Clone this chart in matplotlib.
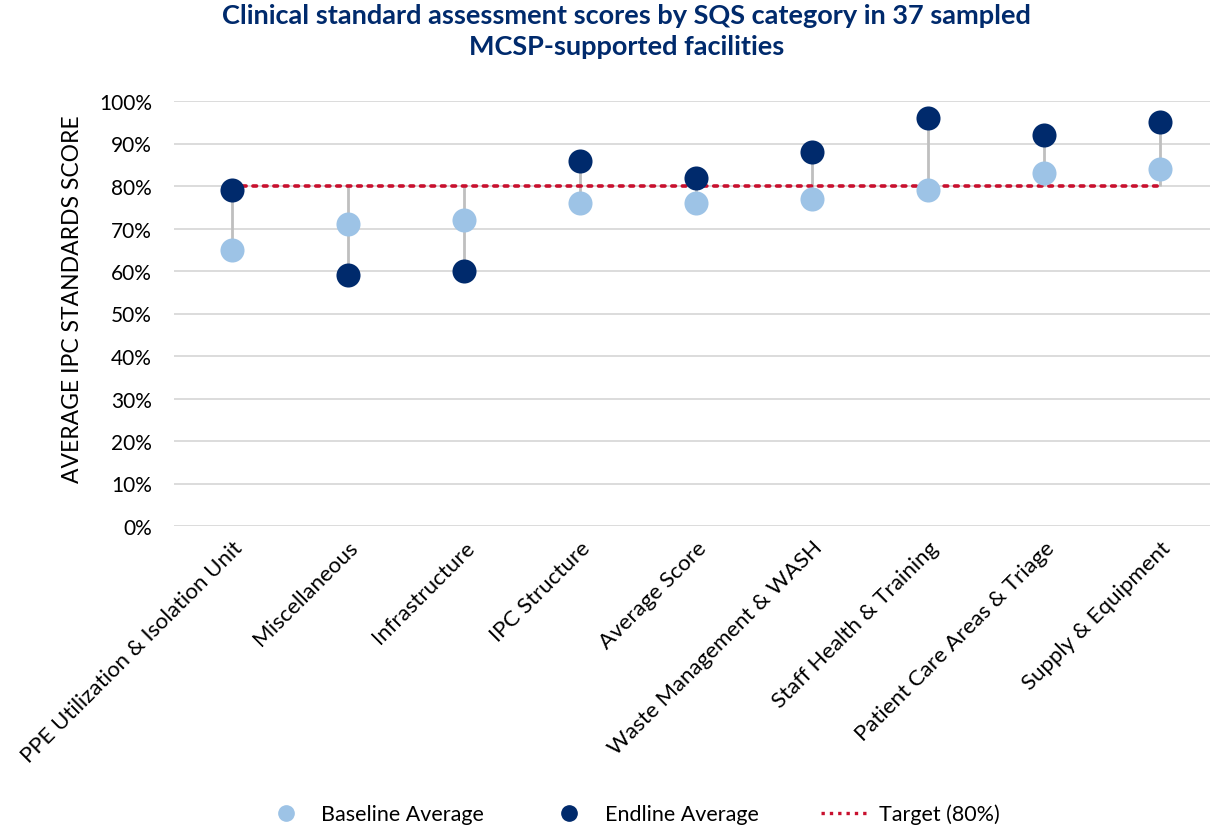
import matplotlib
matplotlib.use("Agg")
import matplotlib.pyplot as plt
from matplotlib.ticker import PercentFormatter
from matplotlib.lines import Line2D

categories = ["PPE Utilization & Isolation Unit", "Miscellaneous", "Infrastructure",
              "IPC Structure", "Average Score", "Waste Management & WASH",
              "Staff Health & Training", "Patient Care Areas & Triage", "Supply & Equipment"]
baseline = [65, 71, 72, 76, 76, 77, 79, 83, 84]
endline = [79, 59, 60, 86, 82, 88, 96, 92, 95]
target = 80
yticks = list(range(0, 101, 10))

plt.rcParams['font.family'] = ['Lato', 'DejaVu Sans']

c_base = "#9DC3E6"
c_end = "#002A6C"
c_target = "#C8102E"

fig = plt.figure(figsize=(12.1, 8.29), dpi=100)
ax = fig.add_axes([174/1210, 1 - 527/829, 1 - 174/1210, (527-102)/829])

x = list(range(len(categories)))
for i, (b, e) in enumerate(zip(baseline, endline)):
    lo = min(b, e, target)
    hi = max(b, e, target)
    ax.plot([i, i], [lo, hi], color="#BFBFBF", lw=2, zorder=2, solid_capstyle="butt")

ax.plot([x[0], x[-1]], [target, target], color=c_target, lw=2.6, ls=(0, (1, 1.9)),
        dash_capstyle="round", zorder=3)
ax.scatter(x, baseline, s=300, color=c_base, zorder=4, linewidths=0)
ax.scatter(x, endline, s=300, color=c_end, zorder=5, linewidths=0)

ax.set_xlim(-0.5, 8.43)
ax.set_ylim(0, 100)
ax.set_yticks(yticks)
ax.yaxis.set_major_formatter(PercentFormatter(decimals=0))
ax.grid(axis="y", color="#D9D9D9", lw=1.3)
ax.set_axisbelow(True)
for s in ax.spines.values():
    s.set_visible(False)
ax.tick_params(axis="both", length=0, labelsize=15, colors="black")
ax.tick_params(axis="y", pad=16)
ax.set_xticks(x)
ax.set_xticklabels(categories, rotation=45, ha="right", rotation_mode="anchor", fontsize=16)
ax.tick_params(axis="x", pad=8)
ax.set_ylabel("AVERAGE IPC STANDARDS SCORE", fontsize=16.5)
ax.yaxis.set_label_coords(-0.088, 0.535)

fig.text(0.518, 0.995, "Clinical standard assessment scores by SQS category in 37 sampled\nMCSP-supported facilities",
         ha="center", va="top", fontsize=19.5, fontweight="bold", color=c_end, linespacing=1.35)

handles = [
    Line2D([], [], marker="o", ls="none", color=c_base, markersize=11),
    Line2D([], [], marker="o", ls="none", color=c_end, markersize=11),
    Line2D([], [], color=c_target, lw=2.4, ls=(0, (1, 1.5))),
]
fig.legend(handles, ["Baseline Average", "Endline Average", "Target (80%)"],
           loc="center", bbox_to_anchor=(0.522, 0.017), ncol=3, frameon=False,
           fontsize=15.5, columnspacing=2.9, handlelength=2.1, handletextpad=0.6)

fig.savefig("out.png", dpi=100)
